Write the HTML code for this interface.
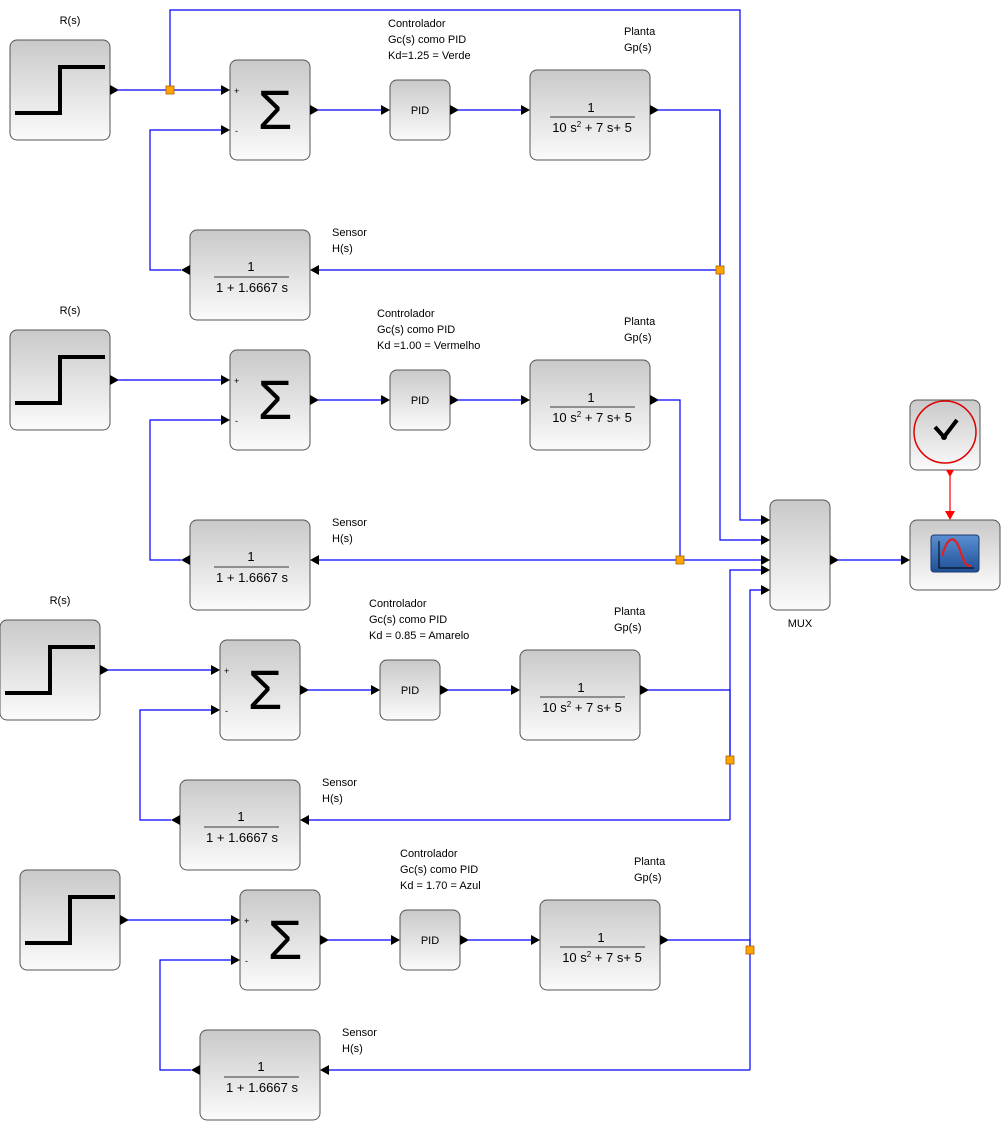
<!DOCTYPE html>
<html><head><meta charset="utf-8"><style>
html,body{margin:0;padding:0;background:#fff;width:1001px;height:1121px;overflow:hidden}
svg{display:block}
text{font-family:"Liberation Sans","DejaVu Sans",sans-serif;font-size:11px;fill:#000}
</style></head><body>
<svg id="s" width="1001" height="1121" xmlns="http://www.w3.org/2000/svg">
<defs>
<linearGradient id="g" x1="0" y1="0" x2="0" y2="1"><stop offset="0" stop-color="#c9c9c9"/><stop offset="1" stop-color="#fbfbfb"/></linearGradient>
<linearGradient id="sc" x1="0" y1="0" x2="0" y2="1"><stop offset="0" stop-color="#5b8fd0"/><stop offset="1" stop-color="#1f4f98"/></linearGradient>
</defs>
<g id="c"></g>
</svg>
<script>
var o='';
function box(x,y,w,h){o+='<rect x="'+x+'" y="'+y+'" width="'+w+'" height="'+h+'" rx="7" fill="url(#g)" stroke="#555" stroke-width="1"/>';}
function t(x,y,s,a,sz,f){o+='<text x="'+x+'" y="'+y+'"'+(a?' text-anchor="'+a+'"':'')+(sz?' style="font-size:'+sz+'px'+(f?';font-family:'+f:'')+'"':'')+'>'+s+'</text>';}
function ln(p,c){o+='<polyline points="'+p+'" fill="none" stroke="'+(c||'#00f')+'" stroke-width="1.2"/>';}
function ar(x,y,d){
 if(d>0)o+='<polygon points="'+(x-9)+','+(y-5)+' '+x+','+y+' '+(x-9)+','+(y+5)+'" fill="#000"/>';
 else o+='<polygon points="'+(x+9)+','+(y-5)+' '+x+','+y+' '+(x+9)+','+(y+5)+'" fill="#000"/>';}
function sp(x,y){o+='<rect x="'+(x-4)+'" y="'+(y-4)+'" width="8" height="8" fill="#ffa500" stroke="#b06000" stroke-width="0.8"/>';}
function row(dx,dy,kd,rlab,px,ps,so,cx){
 box(10+dx,40+dy,100,100);
 o+='<polyline points="'+(15+dx)+','+(113+dy)+' '+(60+dx)+','+(113+dy)+' '+(60+dx)+','+(67+dy)+' '+(105+dx)+','+(67+dy)+'" fill="none" stroke="#000" stroke-width="4"/>';
 ar(119+dx,90+dy,1);
 if(rlab)t(70+dx,24+dy,'R(s)','middle');
 box(230+dx,60+dy,80,100);
 t(275+dx,129+dy,'&#931;','middle',56,'"DejaVu Serif","Liberation Serif",serif');
 t(234+dx,94+dy,'+',null,9);t(235+dx,134+dy,'-',null,9);
 ar(230+dx,90+dy,1);ar(230+dx,130+dy,1);ar(319+dx,110+dy,1);
 box(390+dx,80+dy,60,60);t(420+dx,114+dy,'PID','middle');
 ar(390+dx,110+dy,1);ar(459+dx,110+dy,1);
 box(530+dx,70+dy,120,90);
 t(591+dx,112+dy,'1','middle',13);
 o+='<line x1="'+(550+dx)+'" y1="'+(117+dy)+'" x2="'+(635+dx)+'" y2="'+(117+dy)+'" stroke="#000" stroke-width="0.8"/>';
 t(592+dx,132+dy,'10 s<tspan dy="-5" style="font-size:8px">2</tspan><tspan dy="5"> + 7 s+ 5</tspan>','middle',13);
 ar(530+dx,110+dy,1);ar(659+dx,110+dy,1);
 var sy=dy+so;
 box(190+dx,230+sy,120,90);
 t(251+dx,271+sy,'1','middle',13);
 o+='<line x1="'+(214+dx)+'" y1="'+(277+sy)+'" x2="'+(289+dx)+'" y2="'+(277+sy)+'" stroke="#000" stroke-width="0.8"/>';
 t(252+dx,292+sy,'1 + 1.6667 s','middle',13);
 ar(310+dx,270+sy,-1);ar(181+dx,270+sy,-1);
 t(cx,27+dy,'Controlador');t(cx,43+dy,'Gc(s) como PID');t(cx,59+dy,kd);
 t(624+dx,35+dy,'Planta');t(624+dx,51+dy,'Gp(s)');
 t(332+dx,236+sy,'Sensor');t(332+dx,252+sy,'H(s)');
 ln((118+dx)+','+(90+dy)+' '+(222+dx)+','+(90+dy));
 ln((318+dx)+','+(110+dy)+' '+(382+dx)+','+(110+dy));
 ln((458+dx)+','+(110+dy)+' '+(522+dx)+','+(110+dy));
 ln((181+dx)+','+(270+sy)+' '+(150+dx)+','+(270+sy)+' '+(150+dx)+','+(130+dy)+' '+(222+dx)+','+(130+dy));
 ln((658+dx)+','+(110+dy)+' '+px+','+(110+dy)+' '+px+','+ps);
 ln((px)+','+(270+sy)+' '+(319+dx)+','+(270+sy));
}
ln('170,90 170,10 740,10 740,520 762,520');
ln('720,110 720,540 762,540');
row(0,0,'Kd=1.25 = Verde',true,720,270,0,388);
sp(170,90);sp(720,270);
row(0,290,'Kd =1.00 = Vermelho',true,680,560,0,377);
ln('680,560 762,560');sp(680,560);
row(-10,580,'Kd = 0.85 = Amarelo',true,730,820,-30,369);
ln('730,760 730,570 762,570');sp(730,760);
row(10,830,'Kd = 1.70 = Azul',false,750,1070,-30,400);
ln('750,950 750,590 762,590');sp(750,950);
box(770,500,60,110);
[520,540,560,570,590].forEach(function(y){ar(770,y,1);});
ar(839,560,1);t(800,627,'MUX','middle');
ln('838,560 902,560');
box(910,400,70,70);
o+='<circle cx="945" cy="432" r="31" fill="none" stroke="#d00" stroke-width="1.5"/>';
o+='<polyline points="935,427 944,437 957,420" fill="none" stroke="#000" stroke-width="4"/>';
o+='<circle cx="944" cy="437" r="3" fill="#000"/>';
o+='<polygon points="946,470 954,470 950,477" fill="#f00"/>';
ln('950,472 950,518','#f00');
o+='<polygon points="945,511 955,511 950,520" fill="#f00"/>';
box(910,520,90,70);ar(910,560,1);
o+='<rect x="931" y="535" width="48" height="37" rx="3" fill="url(#sc)" stroke="#1a3a70"/>';
o+='<polyline points="939,541 939,568 974,568" fill="none" stroke="#000" stroke-width="1"/>';
o+='<path d="M942,556 C948,535 955,535 960,550 S966,566 972,566" fill="none" stroke="#e02020" stroke-width="2.2"/>';
document.getElementById('c').innerHTML=o;
</script>
</body></html>
